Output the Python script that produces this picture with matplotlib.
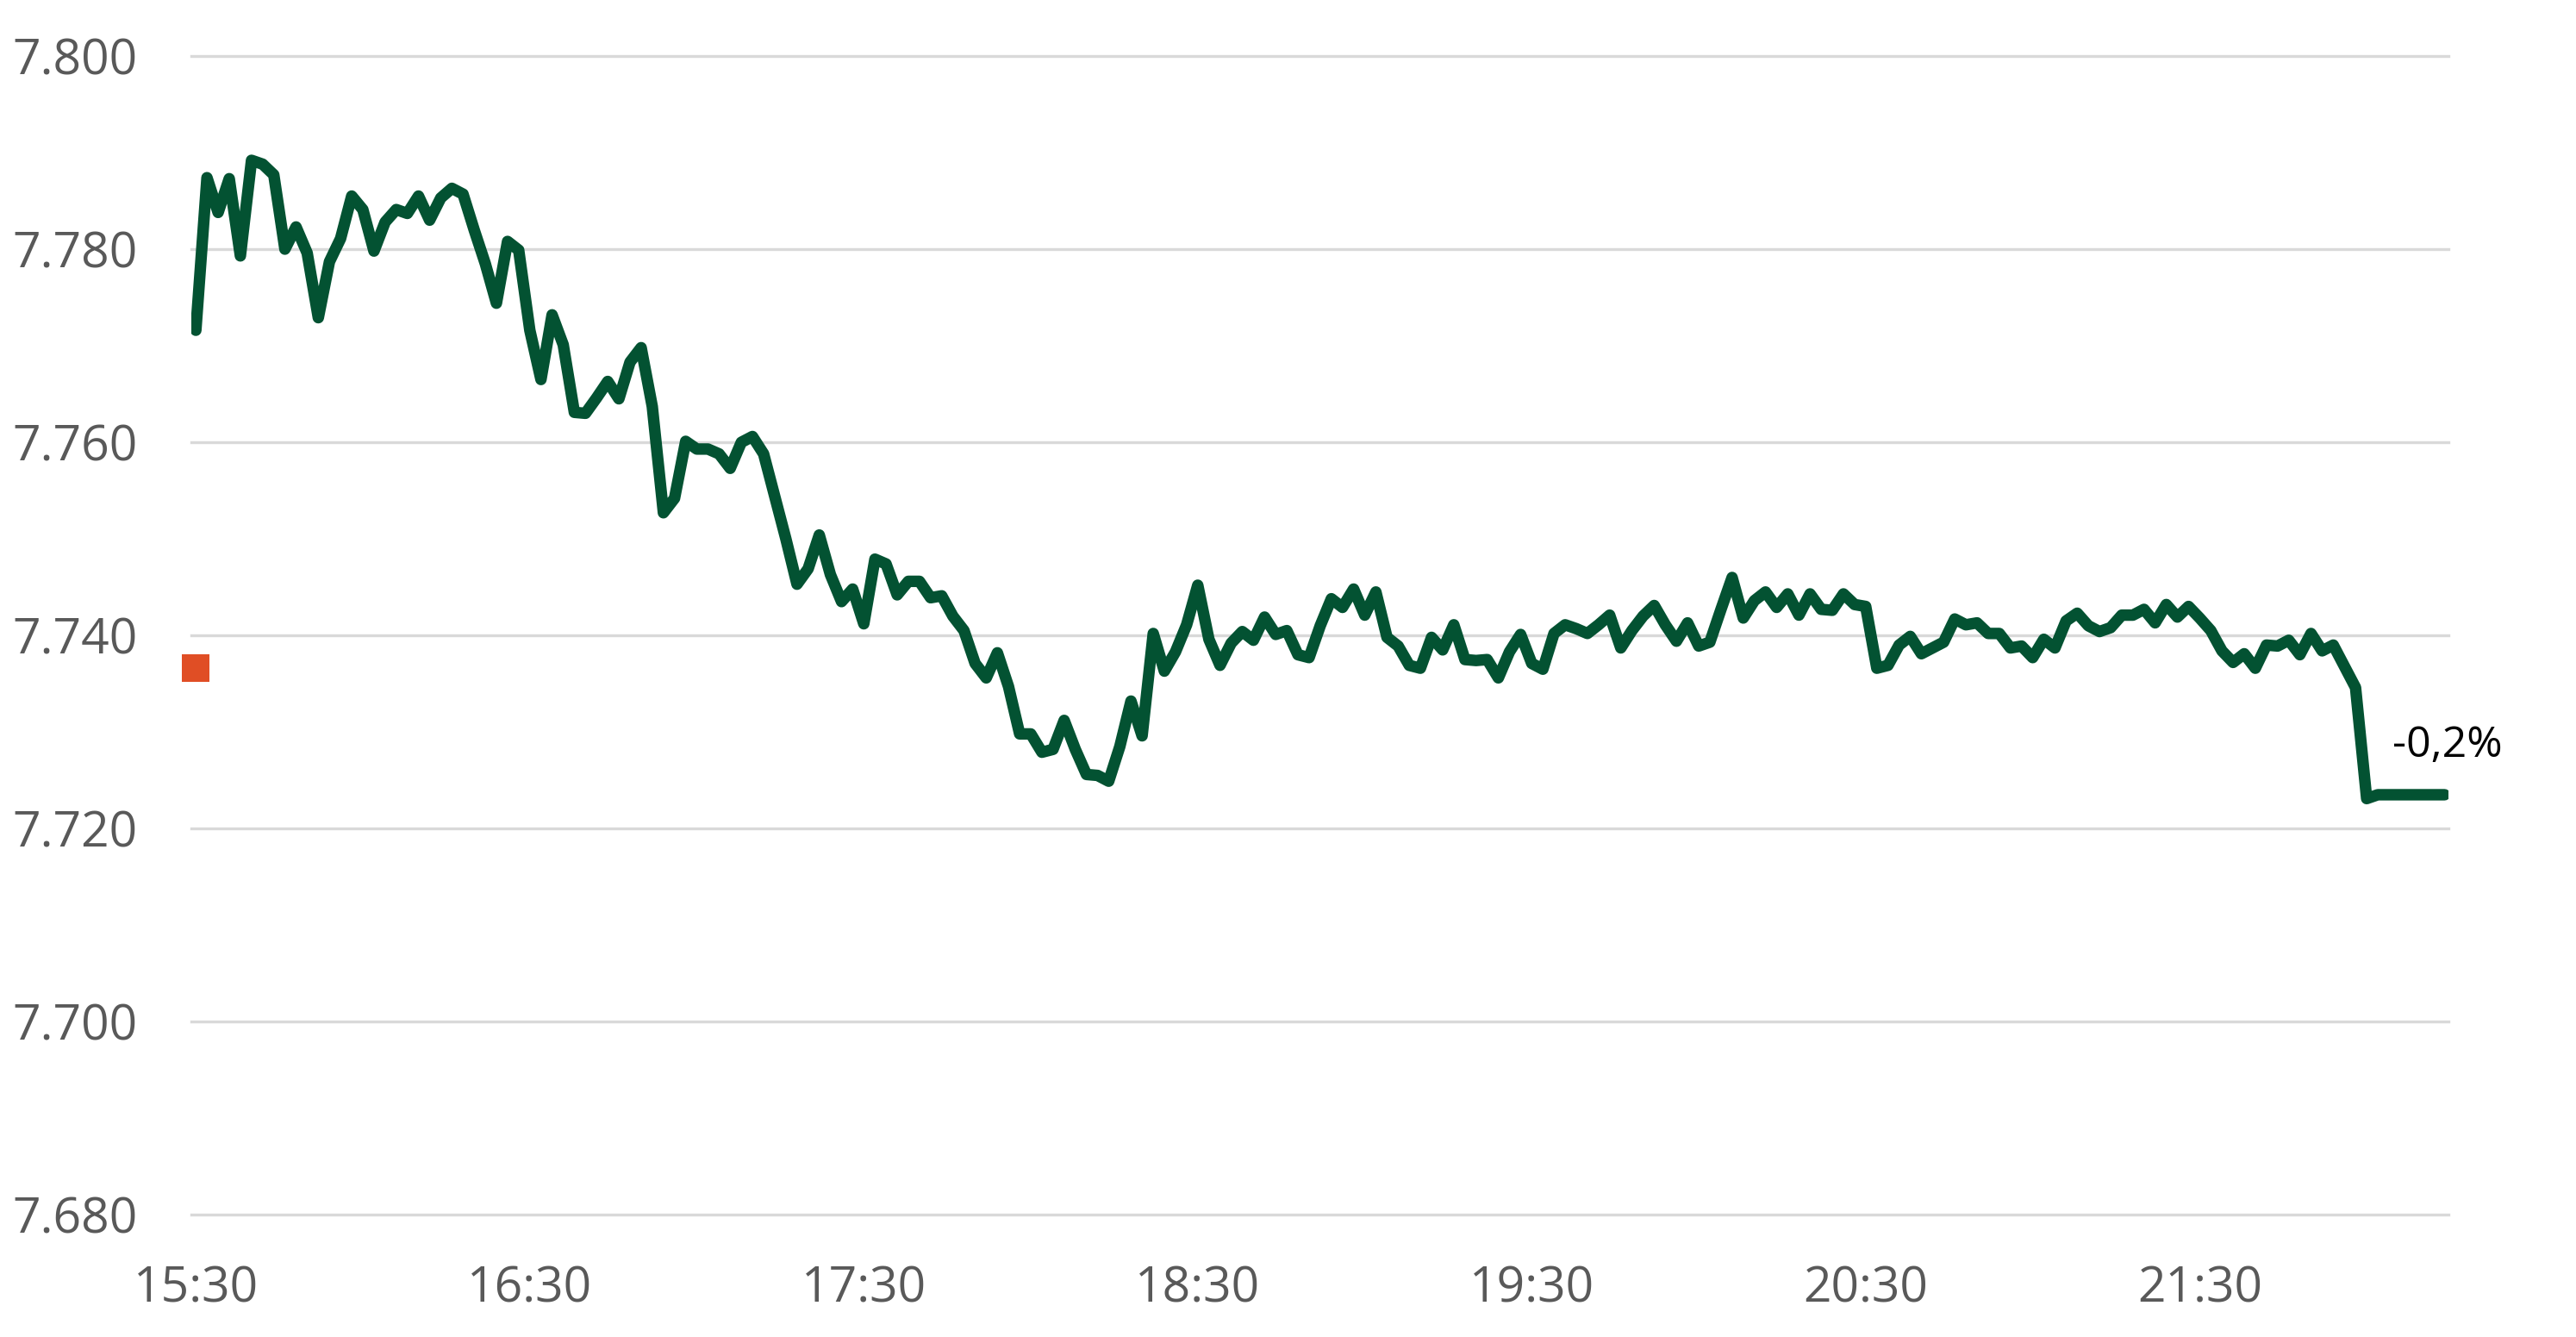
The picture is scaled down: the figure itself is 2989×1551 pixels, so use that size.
import matplotlib
matplotlib.use("Agg")
import matplotlib.pyplot as plt

# minutes after 15:30, one reading every 2 minutes
minutes = list(range(0, 405, 2))

# price
price = [
    7.7716, 7.7874, 7.7838, 7.7873, 7.7793, 7.7892, 7.7888, 7.7877, 7.7800, 7.7823,
    7.7796, 7.7729, 7.7787, 7.7811, 7.7855, 7.7841, 7.7798, 7.7828, 7.7841, 7.7837,
    7.7855, 7.7830, 7.7853, 7.7863, 7.7857, 7.7820, 7.7785, 7.7744, 7.7808, 7.7799,
    7.7716, 7.7665, 7.7732, 7.7701, 7.7631, 7.7630, 7.7646, 7.7663, 7.7645, 7.7683,
    7.7698, 7.7637, 7.7527, 7.7542, 7.7601, 7.7593, 7.7593, 7.7588, 7.7573, 7.7600,
    7.7606, 7.7588, 7.7544, 7.7500, 7.7453, 7.7469, 7.7504, 7.7463, 7.7435, 7.7448,
    7.7412, 7.7479, 7.7474, 7.7442, 7.7456, 7.7456, 7.7439, 7.7441, 7.7420, 7.7405,
    7.7371, 7.7356, 7.7382, 7.7347, 7.7298, 7.7298, 7.7279, 7.7282, 7.7312, 7.7282,
    7.7256, 7.7255, 7.7249, 7.7285, 7.7332, 7.7296, 7.7402, 7.7363, 7.7383, 7.7411,
    7.7452, 7.7396, 7.7369, 7.7392, 7.7404, 7.7395, 7.7419, 7.7401, 7.7405, 7.7380,
    7.7377, 7.7410, 7.7438, 7.7429, 7.7448, 7.7421, 7.7445, 7.7398, 7.7389, 7.7369,
    7.7366, 7.7398, 7.7385, 7.7411, 7.7375, 7.7374, 7.7375, 7.7356, 7.7383, 7.7401,
    7.7371, 7.7365, 7.7402, 7.7411, 7.7407, 7.7402, 7.7411, 7.7421, 7.7387, 7.7405,
    7.7420, 7.7431, 7.7411, 7.7394, 7.7413, 7.7389, 7.7393, 7.7427, 7.7460, 7.7418,
    7.7436, 7.7445, 7.7429, 7.7443, 7.7421, 7.7443, 7.7427, 7.7426, 7.7443, 7.7432,
    7.7430, 7.7366, 7.7369, 7.7390, 7.7399, 7.7381, 7.7387, 7.7393, 7.7417, 7.7411,
    7.7413, 7.7402, 7.7402, 7.7387, 7.7389, 7.7377, 7.7396, 7.7387, 7.7415, 7.7423,
    7.7410, 7.7404, 7.7408, 7.7421, 7.7421, 7.7427, 7.7413, 7.7432, 7.7419, 7.7430,
    7.7418, 7.7405, 7.7384, 7.7372, 7.7381, 7.7366, 7.7390, 7.7389, 7.7395, 7.7380,
    7.7402, 7.7384, 7.7390, 7.7368, 7.7346, 7.7231, 7.7235, 7.7235, 7.7235, 7.7235,
    7.7235, 7.7235, 7.7235,
]

prev_close = 7.7366
change_label = "-0,2%"

y_ticks = [7.680, 7.700, 7.720, 7.740, 7.760, 7.780, 7.800]
y_labels = ["7.680", "7.700", "7.720", "7.740", "7.760", "7.780", "7.800"]
x_labels = ["15:30", "16:30", "17:30", "18:30", "19:30", "20:30", "21:30"]
x_ticks = [60 * i for i in range(len(x_labels))]

plt.rcParams['font.family'] = ['Open Sans', 'DejaVu Sans']

fig = plt.figure(figsize=(29.89, 15.51), dpi=100)
ax = fig.add_axes([0.0743, 0.0914, 0.8762, 0.8667])

# horizontal grid
for yv in y_ticks:
    ax.axhline(yv, color='#d9d9d9', linewidth=2.4, zorder=1, clip_on=False)

ax.plot(minutes, price, color='#035232', linewidth=9.6,
        solid_joinstyle='round', solid_capstyle='round', zorder=3)

# previous close marker
ax.plot([0], [prev_close], marker='s', markersize=23.5, markeredgewidth=0,
        color='#e04e25', linestyle='none', zorder=4, clip_on=False)

ax.text(394.7, 7.7274, change_label, fontsize=36, color='black',
        ha='left', va='baseline')

ax.set_xlim(-0.8, 404.7)
ax.set_ylim(7.680, 7.800)
ax.set_yticks(y_ticks, y_labels)
ax.set_xticks(x_ticks, x_labels)
ax.tick_params(axis='both', length=0, labelsize=41, labelcolor='#595959')
ax.tick_params(axis='y', pad=45)
ax.tick_params(axis='x', pad=42)

for s in ax.spines.values():
    s.set_visible(False)

fig.savefig("out.png", dpi=100, facecolor='white')
